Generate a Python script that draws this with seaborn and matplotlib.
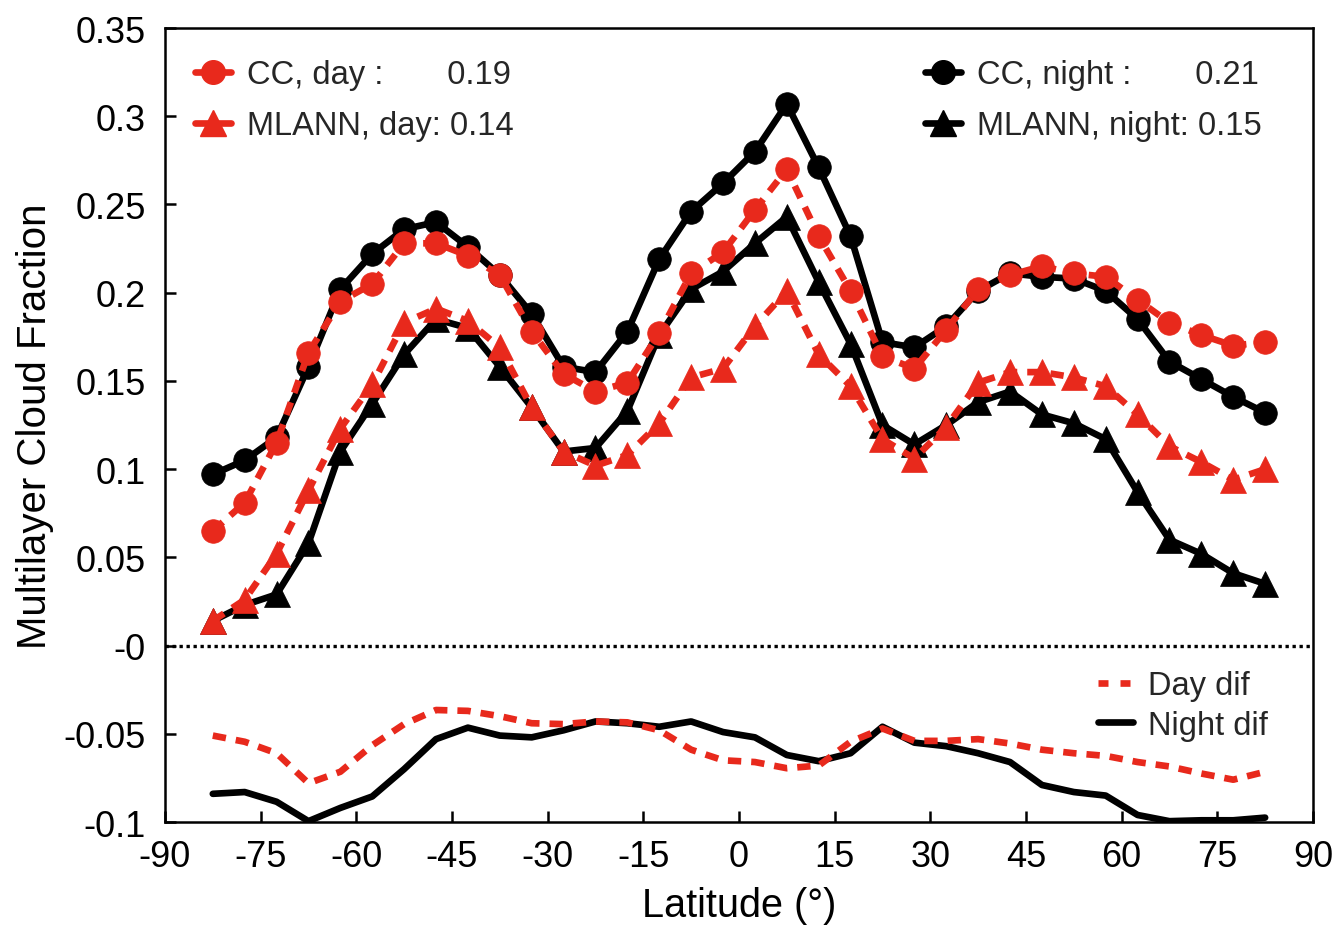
import matplotlib
matplotlib.use("Agg")
import matplotlib.pyplot as plt
from matplotlib.lines import Line2D
import pandas as pd
import seaborn as sns

# Zonal-mean multilayer cloud fraction, 5-degree latitude bins
latitude = [-82.5, -77.5, -72.5, -67.5, -62.5, -57.5, -52.5, -47.5, -42.5, -37.5,
            -32.5, -27.5, -22.5, -17.5, -12.5, -7.5, -2.5, 2.5, 7.5, 12.5,
            17.5, 22.5, 27.5, 32.5, 37.5, 42.5, 47.5, 52.5, 57.5, 62.5,
            67.5, 72.5, 77.5, 82.5]

cc_night = [0.097, 0.105, 0.118, 0.158, 0.202, 0.222, 0.236, 0.240, 0.226, 0.210,
            0.188, 0.158, 0.155, 0.178, 0.219, 0.246, 0.262, 0.280, 0.307, 0.271,
            0.232, 0.172, 0.169, 0.181, 0.201, 0.211, 0.209, 0.208, 0.201, 0.185,
            0.161, 0.151, 0.141, 0.132]

cc_day = [0.065, 0.081, 0.115, 0.166, 0.195, 0.205, 0.228, 0.228, 0.221, 0.210,
          0.178, 0.154, 0.144, 0.149, 0.177, 0.211, 0.223, 0.247, 0.270, 0.232,
          0.201, 0.164, 0.157, 0.179, 0.202, 0.210, 0.215, 0.211, 0.209, 0.196,
          0.183, 0.176, 0.170, 0.172]

mlann_night = [0.014, 0.023, 0.029, 0.058, 0.110, 0.137, 0.165, 0.185, 0.180, 0.158,
               0.135, 0.110, 0.112, 0.133, 0.176, 0.202, 0.212, 0.228, 0.243, 0.206,
               0.171, 0.125, 0.114, 0.125, 0.138, 0.144, 0.131, 0.126, 0.117, 0.087,
               0.060, 0.052, 0.041, 0.035]

mlann_day = [0.014, 0.026, 0.052, 0.088, 0.123, 0.148, 0.183, 0.191, 0.184, 0.169,
             0.135, 0.110, 0.102, 0.108, 0.126, 0.152, 0.157, 0.181, 0.201, 0.165,
             0.147, 0.117, 0.106, 0.124, 0.149, 0.155, 0.155, 0.152, 0.147, 0.131,
             0.113, 0.104, 0.094, 0.100]

day_dif = [-0.051, -0.0545, -0.061, -0.078, -0.0715, -0.0565, -0.0445, -0.0365, -0.037, -0.040,
           -0.044, -0.0445, -0.043, -0.0435, -0.048, -0.059, -0.065, -0.066, -0.0695, -0.068,
           -0.0545, -0.047, -0.054, -0.054, -0.053, -0.0555, -0.059, -0.061, -0.0625, -0.066,
           -0.0685, -0.0725, -0.076, -0.0715]

night_dif = [-0.084, -0.083, -0.0885, -0.0995, -0.092, -0.0855, -0.070, -0.053, -0.0465, -0.051,
             -0.052, -0.048, -0.043, -0.044, -0.046, -0.043, -0.049, -0.052, -0.062, -0.0655,
             -0.061, -0.046, -0.055, -0.057, -0.061, -0.066, -0.079, -0.083, -0.085, -0.096,
             -0.0995, -0.099, -0.099, -0.0975]

mean_labels_day = ["CC, day :       0.19", "MLANN, day: 0.14"]
mean_labels_night = ["CC, night :       0.21", "MLANN, night: 0.15"]
dif_labels = ["Day dif", "Night dif"]

x_ticks = [-90, -75, -60, -45, -30, -15, 0, 15, 30, 45, 60, 75, 90]
x_tick_labels = ["-90", "-75", "-60", "-45", "-30", "-15", "0", "15", "30", "45", "60", "75", "90"]
y_ticks = [-0.1, -0.05, 0.0, 0.05, 0.1, 0.15, 0.2, 0.25, 0.3, 0.35]
y_tick_labels = ["-0.1", "-0.05", "-0", "0.05", "0.1", "0.15", "0.2", "0.25", "0.3", "0.35"]

RED = "#E8291C"
BLACK = "#000000"
LW = 4.8
DASH = (0, (2.0, 1.5))
MS_CIRCLE = 17
MS_TRI = 19

sns.set_theme(style="ticks")
plt.rcParams["font.family"] = ["Liberation Sans", "DejaVu Sans"]
plt.rcParams["axes.unicode_minus"] = False

df = pd.DataFrame({
    "lat": latitude,
    "cc_night": cc_night, "cc_day": cc_day,
    "mlann_night": mlann_night, "mlann_day": mlann_day,
    "day_dif": day_dif, "night_dif": night_dif,
})

fig = plt.figure(figsize=(13.38, 9.28), dpi=100)
ax = fig.add_axes([0.1233, 0.1131, 0.8580, 0.8556])

ax.axhline(0, color=BLACK, linewidth=2.4, linestyle=(0, (1, 1.1)), zorder=1)

# difference curves
sns.lineplot(data=df, x="lat", y="night_dif", ax=ax, color=BLACK, zorder=2)
sns.lineplot(data=df, x="lat", y="day_dif", ax=ax, color=RED, linestyle=DASH, zorder=3)

# night curves (black, solid) beneath day curves (red, dashed)
sns.lineplot(data=df, x="lat", y="cc_night", ax=ax, color=BLACK, marker="o",
             markersize=MS_CIRCLE, markeredgecolor=BLACK, markeredgewidth=0.5, zorder=4)
sns.lineplot(data=df, x="lat", y="mlann_night", ax=ax, color=BLACK, marker="^",
             markersize=MS_TRI, markeredgecolor=BLACK, markeredgewidth=0.5, zorder=4)
sns.lineplot(data=df, x="lat", y="cc_day", ax=ax, color=RED, linestyle=DASH,
             marker="o", markersize=MS_CIRCLE, markeredgecolor=RED, markeredgewidth=0.5,
             zorder=5)
sns.lineplot(data=df, x="lat", y="mlann_day", ax=ax, color=RED, linestyle=DASH,
             marker="^", markersize=MS_TRI, markeredgecolor=RED, markeredgewidth=0.5,
             zorder=5)

# heavy strokes for every data curve (the zero line keeps its thin dots)
for ln in ax.lines[1:]:
    ln.set_linewidth(LW)

ax.set_xlim(-90, 90)
ax.set_ylim(-0.1, 0.35)
ax.set_xticks(x_ticks)
ax.set_xticklabels(x_tick_labels)
ax.set_yticks(y_ticks)
ax.set_yticklabels(y_tick_labels)
ax.tick_params(axis="both", direction="in", length=8, width=1.8, labelsize=26,
               colors=BLACK, top=False, right=False)
ax.tick_params(axis="x", pad=12)
ax.tick_params(axis="y", pad=14)
for side in ax.spines.values():
    side.set_visible(True)
    side.set_linewidth(1.8)
    side.set_color(BLACK)

ax.set_xlabel("Latitude (°)", fontsize=28.5, color=BLACK)
ax.set_ylabel("Multilayer Cloud Fraction", fontsize=29, color=BLACK)
ax.xaxis.set_label_coords(0.5, -0.08)
ax.yaxis.set_label_coords(-0.097, 0.5)

leg_kw = dict(frameon=False, fontsize=23.5, handlelength=1.1, handletextpad=0.5,
              borderpad=0, borderaxespad=0, labelspacing=0.62)

day_handles = [Line2D([], [], color=RED, linewidth=LW, marker="o", markersize=MS_CIRCLE,
                      markeredgecolor=RED),
               Line2D([], [], color=RED, linewidth=LW, marker="^", markersize=MS_TRI,
                      markeredgecolor=RED)]
leg1 = ax.legend(day_handles, mean_labels_day, loc="upper left",
                 bbox_to_anchor=(0.026, 0.961), **leg_kw)
ax.add_artist(leg1)

night_handles = [Line2D([], [], color=BLACK, linewidth=LW, marker="o", markersize=MS_CIRCLE),
                 Line2D([], [], color=BLACK, linewidth=LW, marker="^", markersize=MS_TRI)]
leg2 = ax.legend(night_handles, mean_labels_night, loc="upper left",
                 bbox_to_anchor=(0.662, 0.961), **leg_kw)
ax.add_artist(leg2)

dif_handles = [Line2D([], [], color=RED, linewidth=LW, linestyle=(0, (1.5, 1.8))),
               Line2D([], [], color=BLACK, linewidth=LW)]
dif_kw = dict(leg_kw)
dif_kw.update(handlelength=1.07, handletextpad=0.46, labelspacing=0.26)
ax.legend(dif_handles, dif_labels, loc="upper left",
          bbox_to_anchor=(0.8127, 0.191), **dif_kw)

fig.savefig("out.png", dpi=100)
